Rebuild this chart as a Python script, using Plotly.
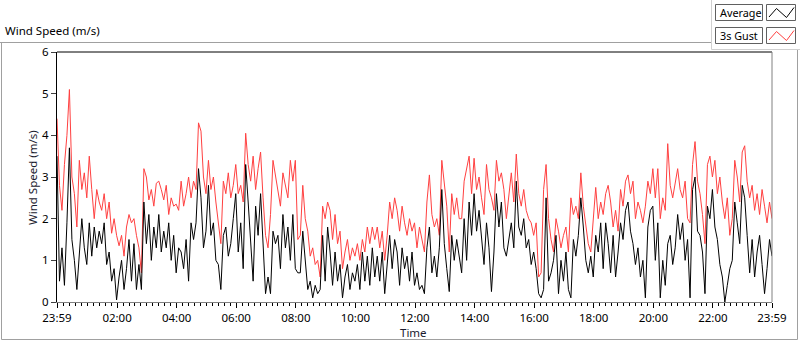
import plotly.graph_objects as go

# ---- data (5-minute samples from 23:59 to 23:59 next day) ----
minutes_step = 5
gust = [4.4, 2.8, 2.2, 3.3, 4.0, 5.1, 3.0, 2.6, 1.8, 3.4, 2.7, 3.1, 2.5, 3.5, 2.7, 2.0, 2.7, 2.4, 2.2, 2.6,
        2.0, 2.4, 1.65, 2.0, 1.6, 1.35, 1.6, 1.1, 1.8, 2.1, 1.9, 2.0, 1.6, 1.3, 0.7, 3.2, 3.0, 2.45, 2.7, 2.3,
        2.85, 2.9, 2.7, 2.45, 2.8, 2.1, 2.5, 2.3, 2.35, 2.2,
        2.9, 2.3, 2.6, 3.0, 2.5, 2.9, 2.7, 4.3, 4.1, 3.0, 2.6, 3.4, 2.7, 3.0, 2.4, 1.9, 1.4, 2.9, 2.6, 3.1,
        2.5, 2.8, 3.3, 2.6, 2.8, 2.4, 4.05, 3.3, 2.9, 3.5, 2.7, 3.2, 3.6, 2.5, 1.6, 1.3, 2.1, 3.4, 3.0, 2.7,
        2.3, 3.1, 2.8, 2.5, 3.4, 2.9, 3.4, 1.5,
        1.6, 2.8, 2.0, 1.7, 1.1, 1.3, 0.9, 1.0, 0.6, 2.3, 2.0, 2.4, 2.2, 1.5, 2.1, 1.4, 1.7, 0.8, 1.2, 1.5,
        1.0, 1.3, 1.1, 1.4, 1.0, 1.5, 1.2, 1.8, 1.4, 1.8, 1.5, 1.8, 1.3, 1.7, 1.0, 1.6, 2.4, 2.0, 2.5, 2.2,
        1.7, 2.3, 1.9, 1.6, 2.0, 1.7, 1.9, 1.3, 1.8,
        1.5, 1.2, 2.4, 3.05, 2.1, 1.8, 2.0, 1.6, 3.4, 2.8, 2.3, 1.2, 2.6, 2.1, 2.5, 2.0, 2.0, 2.9, 3.2, 3.5,
        2.6, 3.45, 2.7, 3.0, 2.5, 2.1, 3.3, 2.7, 2.5, 2.2, 3.4, 2.9, 3.1, 2.7, 2.0, 2.5, 3.1, 2.4, 3.55, 2.6,
        2.3, 2.7, 2.2, 2.0, 1.9, 1.6, 1.9, 0.6,
        0.7, 2.7, 3.3, 2.0, 1.5, 1.2, 2.0, 1.7, 1.3, 1.6, 1.8, 1.2, 2.5, 2.1, 2.3, 2.0, 3.1, 2.3, 1.9, 1.4,
        1.2, 2.1, 2.75, 2.0, 2.4, 2.1, 2.6, 2.8, 2.4, 1.8, 2.2, 1.7, 2.7, 2.3, 2.9, 3.05, 2.6, 2.9, 2.0, 2.4,
        2.2, 1.9, 2.3, 2.9, 2.6, 3.2, 2.5, 3.2,
        2.0, 2.5, 2.2, 3.8, 2.8, 2.5, 2.9, 3.2, 2.7, 2.5, 2.9, 2.0, 1.9, 3.3, 3.85, 2.9, 2.6, 2.1, 1.4, 3.3,
        3.5, 3.0, 3.4, 2.6, 3.0, 2.4, 2.0, 2.5, 1.6, 2.0, 3.4, 3.0, 2.4, 3.6, 3.75, 2.9, 2.5, 2.8, 2.2, 2.6,
        2.1, 2.7, 2.3, 1.9, 2.4, 2.0]

average = [3.5, 0.5, 1.3, 0.4, 1.9, 3.7, 1.5, 1.0, 0.3, 1.2, 2.0, 1.3, 0.9, 1.9, 1.1, 1.8, 1.3, 1.7, 1.4, 1.9,
           0.9, 1.2, 0.5, 0.8, 0.05, 0.6, 1.0, 0.3, 0.8, 1.5, 0.5, 1.4, 0.3, 0.9, 0.3, 2.4, 1.4, 2.1, 1.0, 1.8,
           1.3, 2.1, 1.2, 1.7, 1.3, 1.9, 1.0, 1.6, 0.7, 1.3,
           1.2, 0.8, 1.5, 0.5, 1.9, 1.5, 1.9, 3.2, 2.5, 1.3, 1.7, 2.8, 1.6, 1.9, 1.0, 0.9, 0.3, 1.6, 1.8, 1.1,
           1.4, 2.0, 2.6, 1.2, 1.9, 0.8, 3.3, 2.4, 1.4, 0.5, 2.3, 1.6, 2.6, 1.2, 0.2, 0.6, 0.2, 1.7, 1.4, 1.6,
           0.8, 2.1, 1.3, 1.8, 1.0, 2.1, 0.8, 0.7,
           0.7, 1.7, 0.9, 0.3, 0.5, 0.1, 0.4, 0.2, 0.3, 1.6, 0.5, 1.8, 1.2, 0.4, 1.2, 0.5, 0.9, 0.1, 0.6, 0.9,
           0.3, 0.7, 0.5, 0.9, 0.3, 1.2, 0.5, 1.1, 0.4, 1.3, 0.6, 1.1, 0.5, 1.2, 0.2, 0.9, 1.6, 0.8, 1.5, 1.2,
           0.4, 1.3, 0.8, 1.1, 0.5, 1.2, 0.4, 0.7, 0.3,
           0.4, 0.2, 1.3, 1.8, 0.7, 1.1, 0.6, 1.3, 2.7, 1.4, 0.8, 0.25, 1.6, 1.0, 1.5, 1.1, 0.7, 2.0, 1.0, 2.4,
           1.6, 2.6, 1.7, 2.2, 1.5, 0.9, 1.9, 1.3, 0.25, 1.2, 2.6, 1.8, 2.4, 1.3, 1.1, 1.5, 1.9, 1.3, 2.9, 1.8,
           1.6, 2.0, 1.3, 1.5, 0.9, 1.2, 0.8, 0.2,
           0.1, 0.3, 2.5, 0.5, 0.7, 1.0, 1.6, 0.2, 1.0, 0.5, 1.2, 0.3, 0.1, 1.5, 1.1, 1.6, 2.5, 1.8, 1.0, 0.7,
           1.1, 0.6, 1.6, 1.2, 1.9, 0.8, 1.9, 1.4, 0.7, 1.6, 0.6, 1.2, 1.9, 1.5, 2.2, 2.4, 1.7, 1.4, 0.9, 1.3,
           0.6, 1.0, 0.1, 1.8, 2.2, 2.3, 1.0, 1.9,
           0.1, 1.0, 0.4, 1.4, 1.6, 0.9, 1.3, 2.1, 1.5, 1.9, 1.0, 1.5, 0.1, 2.7, 3.0, 1.7, 1.6, 1.2, 0.2, 2.3,
           2.0, 2.7, 1.8, 1.5, 0.9, 0.6, 0.0, 0.4, 0.8, 1.0, 2.4, 1.9, 1.4, 2.8, 2.5, 1.6, 0.7, 1.5, 0.6, 1.2,
           1.6, 0.9, 0.2, 0.8, 1.5, 1.1]

tick_minutes = [0, 121, 241, 361, 481, 601, 721, 841, 961, 1081, 1201, 1321, 1440]
tick_labels = ["23:59", "02:00", "04:00", "06:00", "08:00", "10:00", "12:00",
               "14:00", "16:00", "18:00", "20:00", "22:00", "23:59"]
series_names = ["Average", "3s Gust"]

t = [i * minutes_step for i in range(len(gust))]

# ---- geometry helpers (pixel -> paper) ----
W, H = 800, 342
L, R, T, B = 57, 772, 52, 302
def xp(px):
    return (px - L) / (R - L)
def yp(py):
    return (B - py) / (B - T)

FONT = "Noto Sans"
RED = "#ff4040"

fig = go.Figure()
fig.add_trace(go.Scatter(x=t, y=gust, mode="lines", name=series_names[1],
                         line=dict(color=RED, width=1), showlegend=False, hoverinfo="skip"))
fig.add_trace(go.Scatter(x=t, y=average, mode="lines", name=series_names[0],
                         line=dict(color="#000000", width=1), showlegend=False, hoverinfo="skip"))

shapes = []
def line(x0, y0, x1, y1, color, width=1):
    shapes.append(dict(type="line", xref="paper", yref="paper",
                       x0=xp(x0), y0=yp(y0), x1=xp(x1), y1=yp(y1),
                       line=dict(color=color, width=width)))

# outer panel
line(0, 42.5, 711, 42.5, "#a0a0a0")
line(1.5, 42.5, 1.5, 339.5, "#a0a0a0")
line(1.5, 339.5, 797.5, 339.5, "#a0a0a0")
line(797.5, 49.5, 797.5, 339.5, "#a0a0a0")
line(711.5, 0, 711.5, 49.5, "#d0d0d0")
line(711.5, 49.5, 800, 49.5, "#d0d0d0")
# plot frame top / right
line(L, T, R, T, "#000000")
line(R, T, R, B, "#808080")

annotations = []
# legend boxes
rows = [(4.5, 20.5, "#000000", series_names[0]), (27.5, 43.5, RED, series_names[1])]
for (y0, y1, col, name) in rows:
    shapes.append(dict(type="rect", xref="paper", yref="paper",
                       x0=xp(715.5), x1=xp(762.5), y0=yp(y1), y1=yp(y0),
                       line=dict(color="#606060", width=1), fillcolor="#ffffff"))
    shapes.append(dict(type="rect", xref="paper", yref="paper",
                       x0=xp(766.5), x1=xp(795.5), y0=yp(y1), y1=yp(y0),
                       line=dict(color="#606060", width=1), fillcolor="#ffffff"))
    pts = [(769, y1 - 3.5), (776.5, y0 + 4), (786.5, y1 - 3), (794, y0 + 3)]
    path = "M " + " L ".join(f"{xp(a)},{yp(b)}" for a, b in pts)
    shapes.append(dict(type="path", xref="paper", yref="paper", path=path,
                       line=dict(color=col, width=1)))
    annotations.append(dict(text=name, xref="paper", yref="paper",
                            x=xp(717.5), y=yp((y0 + y1) / 2), xanchor="left", yanchor="middle",
                            showarrow=False, font=dict(family=FONT, size=10.8, color="#000000")))

# chart title
annotations.append(dict(text="Wind Speed (m/s)", xref="paper", yref="paper",
                        x=xp(3), y=yp(31), xanchor="left", yanchor="middle", showarrow=False,
                        font=dict(family=FONT, size=11.5, color="#000000")))
# axis titles
annotations.append(dict(text="Wind Speed (m/s)", xref="paper", yref="paper",
                        x=xp(32), y=yp(177), xanchor="center", yanchor="middle", textangle=-90,
                        showarrow=False, font=dict(family=FONT, size=11.5, color="#1a1a2e")))
annotations.append(dict(text="Time", xref="paper", yref="paper",
                        x=xp(413), y=yp(332), xanchor="center", yanchor="middle",
                        showarrow=False, font=dict(family=FONT, size=11.5, color="#1a1a2e")))

fig.update_layout(
    width=W, height=H,
    margin=dict(l=L, r=W - R, t=T, b=H - B, pad=0),
    paper_bgcolor="#ffffff", plot_bgcolor="#ffffff",
    font=dict(family=FONT, size=11.5, color="#000000"),
    shapes=shapes, annotations=annotations,
    xaxis=dict(range=[0, 1440], tickmode="array", tickvals=tick_minutes, ticktext=tick_labels,
               ticks="outside", ticklen=5, tickcolor="#000000", tickwidth=1,
               showline=True, linecolor="#808080", linewidth=1,
               showgrid=False, zeroline=False,
               minor=dict(tick0=1, dtick=12, ticks="outside", ticklen=3, tickcolor="#000000",
                          showgrid=False)),
    yaxis=dict(range=[0, 6], tickmode="array", tickvals=[0, 1, 2, 3, 4, 5, 6],
               ticks="outside", ticklen=5, tickcolor="#404040",
               showline=True, linecolor="#000000", linewidth=1,
               showgrid=False, zeroline=False),
)

fig.write_html("out.html", config={"displayModeBar": False},
               post_script="document.body.style.margin='0';document.body.style.padding='0';")
